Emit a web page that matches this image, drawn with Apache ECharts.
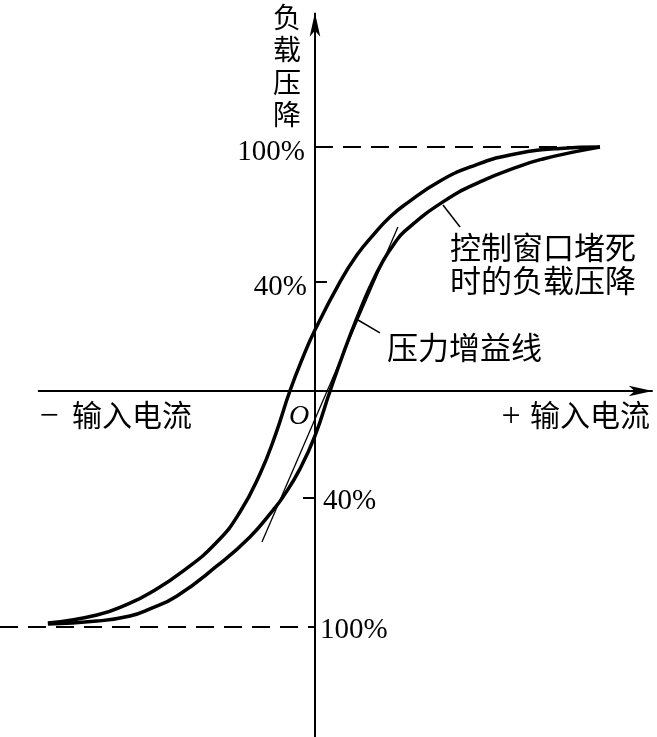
<!DOCTYPE html>
<html><head><meta charset="utf-8">
<script src="https://cdn.jsdelivr.net/npm/echarts@6/dist/echarts.min.js"></script>
<style>html,body{margin:0;padding:0;background:#fff}#c{width:657px;height:737px}</style>
</head><body><div id="c"></div>
<script>
// Load pressure drop (%) vs input current (relative units, +100 = full input)
const upperCurve = [
  [-93.7,-95.1],[-76.5,-91.8],[-64.9,-86.9],[-57.9,-82.8],[-46.3,-73.8],[-34.4,-61.9],
  [-26.3,-49.6],[-19.3,-34.0],[-14.0,-18.4],[-8.8,0],[-4.2,13.9],[0,25.0],[8.8,44.7],
  [14.7,55.7],[20.4,63.9],[26.3,71.3],[32.3,77.0],[43.9,86.1],[55.4,92.2],[68.4,96.7],
  [86.0,99.4],[100,100]
];
const lowerCurve = [
  [-93.7,-95.5],[-76.5,-94.3],[-64.9,-92.2],[-57.9,-89.3],[-48.4,-84.0],[-34.4,-71.7],
  [-22.8,-59.8],[-14.7,-48.8],[-11.2,-43.4],[-5.3,-32.0],[0,-18.4],[5.3,0],[10.5,17.2],
  [14.7,29.9],[19.3,42.6],[23.9,53.3],[27.7,60.2],[31.6,65.6],[44.9,77.5],[57.9,85.7],
  [71.9,92.2],[80.0,95.1],[91.9,98.2],[100,100]
];
const gainLine = [[-18.6,-61.9],[29.1,67.2]];
const leaderGain = [[15.1,29.1],[22.8,23.8]];
const leaderBlocked = [[44.9,76.2],[50.9,67.2]];
const tickValues = [100, 44.7, -43.9, -96.7];
const tickLabels = ['100%', '40%', '40%', '100%'];
const xAxisExtent = [-97.2, 118.5];
const yAxisExtent = [-141.8, 155.0];
const dashTopX = [0, 100];
const dashBottomX = [-110.5, 0];

const CJK = '"Noto Sans CJK SC"';
const SERIF = '"Liberation Serif"';
const black = '#000';

const frameLines = [
  [{coord:[xAxisExtent[0],0], symbol:'none'}, {coord:[xAxisExtent[1],0], symbol:'arrow', symbolSize:[8,24]}],
  [{coord:[0,yAxisExtent[0]], symbol:'none'}, {coord:[0,yAxisExtent[1]], symbol:'arrow', symbolSize:[8,24]}],
  [{coord:[dashTopX[0],tickValues[0]], symbol:'none', lineStyle:{type:[18,10]}}, {coord:[dashTopX[1],tickValues[0]], symbol:'none'}],
  [{coord:[dashBottomX[0],tickValues[3]], symbol:'none', lineStyle:{type:[18,10]}}, {coord:[dashBottomX[1],tickValues[3]], symbol:'none'}],
  [{coord:[0,tickValues[1]], symbol:'none'}, {coord:[4.2,tickValues[1]], symbol:'none'}],
  [{coord:[-4.2,tickValues[2]], symbol:'none'}, {coord:[0,tickValues[2]], symbol:'none'}]
];

function curve(data, w){
  return {type:'line', data:data, smooth:0.5, showSymbol:false, symbol:'none',
    lineStyle:{color:black, width:w}, silent:true, z:3};
}

const option = {
  animation:false,
  backgroundColor:'#fff',
  grid:{left:0, top:0, width:657, height:737, containLabel:false},
  xAxis:{type:'value', min:-110.5, max:120, show:false},
  yAxis:{type:'value', min:-141.8, max:160.25, show:false},
  series:[
    curve(upperCurve, 3.5),
    curve(lowerCurve, 3.5),
    {type:'line', data:gainLine, showSymbol:false, symbol:'none', lineStyle:{color:black, width:1.3}, silent:true},
    {type:'line', data:leaderGain, showSymbol:false, symbol:'none', lineStyle:{color:black, width:1.5}, silent:true},
    {type:'line', data:leaderBlocked, showSymbol:false, symbol:'none', lineStyle:{color:black, width:1.5}, silent:true},
    {type:'line', data:[], silent:true,
      markLine:{silent:true, animation:false, label:{show:false}, symbol:'none',
        lineStyle:{color:black, width:2, type:'solid'}, emphasis:{disabled:true},
        data:frameLines}},
    {type:'scatter', symbolSize:0, silent:true, itemStyle:{opacity:1, color:black},
      data: tickValues.map((v,i)=>({
        value:[0,v],
        label:{show:true, formatter:tickLabels[i], position: i<2?'left':'right',
          distance: i===0?10:(i===1?8:(i===2?8:5)), offset:[0, i<2?5:3],
          color:black, opacity:1, fontFamily:SERIF, fontSize:29}
      }))}
  ],
  graphic:[
    {type:'text', x:287, y:1, style:{text:'负\n载\n压\n降', font:'28px '+CJK, lineHeight:32.5, fill:black, align:'center', textAlign:'center', verticalAlign:'top', textVerticalAlign:'top'}},
    {type:'text', x:49, y:417, style:{text:'−', font:'34px '+SERIF, fill:black, align:'center', textAlign:'center', verticalAlign:'middle', textVerticalAlign:'middle'}},
    {type:'text', x:72, y:415, style:{text:'输入电流', font:'30px '+CJK, fill:black, align:'left', textAlign:'left', verticalAlign:'middle', textVerticalAlign:'middle'}},
    {type:'text', x:511, y:417, style:{text:'+', font:'34px '+SERIF, fill:black, align:'center', textAlign:'center', verticalAlign:'middle', textVerticalAlign:'middle'}},
    {type:'text', x:530, y:415, style:{text:'输入电流', font:'30px '+CJK, fill:black, align:'left', textAlign:'left', verticalAlign:'middle', textVerticalAlign:'middle'}},
    {type:'text', x:299, y:417, style:{text:'O', font:'italic 28px '+SERIF, fill:black, align:'center', textAlign:'center', verticalAlign:'middle', textVerticalAlign:'middle'}},
    {type:'text', x:387, y:347, style:{text:'压力增益线', font:'31px '+CJK, fill:black, align:'left', textAlign:'left', verticalAlign:'middle', textVerticalAlign:'middle'}},
    {type:'text', x:450, y:247, style:{text:'控制窗口堵死', font:'31px '+CJK, fill:black, align:'left', textAlign:'left', verticalAlign:'middle', textVerticalAlign:'middle'}},
    {type:'text', x:450, y:280, style:{text:'时的负载压降', font:'31px '+CJK, fill:black, align:'left', textAlign:'left', verticalAlign:'middle', textVerticalAlign:'middle'}}
  ]
};
const chart = echarts.init(document.getElementById('c'), null, {renderer:'canvas'});
chart.setOption(option);
</script>
</body></html>
